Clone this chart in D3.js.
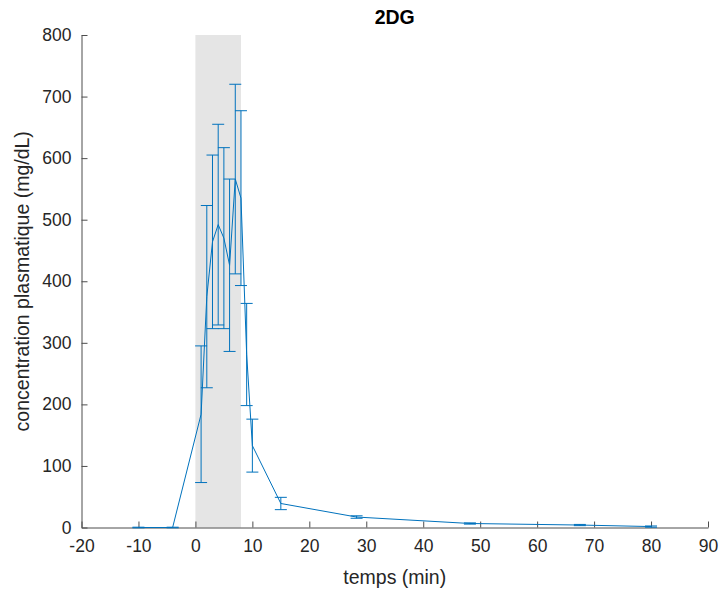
<!DOCTYPE html>
<html>
<head>
<meta charset="utf-8">
<script src="https://cdn.jsdelivr.net/npm/d3@7"></script>
<style>
  html, body { margin: 0; padding: 0; background: #fff; }
  svg { display: block; }
  text { font-family: "Liberation Sans", Arial, Helvetica, sans-serif; }
</style>
</head>
<body>
<svg id="chart" width="721" height="592"></svg>
<script>
// ---- data ----
const times  = [-10, -4, 1, 2, 3, 4, 5, 6, 7, 8, 9, 10, 15, 28.3, 48.2, 67.5, 80];
const means  = [0, 0, 184, 375, 464, 492, 470, 426, 566, 535, 281, 133, 39, 17, 6.5, 4, 1.5];
const errors = [0.5, 0.5, 111, 148, 141, 163, 147, 140, 154, 142, 83, 43, 10, 2, 1, 1, 1];
const shadeRange = [0, 8];
const xTicks = [-20, -10, 0, 10, 20, 30, 40, 50, 60, 70, 80, 90];
const yTicks = [0, 100, 200, 300, 400, 500, 600, 700, 800];
const title = "2DG";
const xLabel = "temps (min)";
const yLabel = "concentration plasmatique (mg/dL)";

// ---- layout ----
const svg = d3.select("#chart");
const x = d3.scaleLinear().domain([-20, 90]).range([81.5, 708]);
const y = d3.scaleLinear().domain([0, 800]).range([527.5, 35]);
const blue = "#0072BD";
const axisColor = "#262626";

// shaded infusion window
svg.append("rect")
  .attr("x", x(shadeRange[0]))
  .attr("y", y(800))
  .attr("width", x(shadeRange[1]) - x(shadeRange[0]))
  .attr("height", y(0) - y(800))
  .attr("fill", "#e5e5e5");

// axes
const fmt = d => String(d);
const xAxis = d3.axisBottom(x).tickValues(xTicks).tickFormat(fmt).tickSizeInner(-6).tickSizeOuter(0).tickPadding(10);
const yAxis = d3.axisLeft(y).tickValues(yTicks).tickFormat(fmt).tickSizeInner(-6).tickSizeOuter(0).tickPadding(10);

const gx = svg.append("g").attr("transform", `translate(0,${y(0)})`).call(xAxis);
const gy = svg.append("g").attr("transform", `translate(${x(-20)},0)`).call(yAxis);
[gx, gy].forEach(g => {
  g.select(".domain").attr("stroke", "#4d4d4d").attr("stroke-width", 1);
  g.selectAll(".tick line").attr("stroke", "#4d4d4d");
  g.selectAll(".tick text").attr("fill", axisColor).style("font-size", "17.5px")
    .style("font-family", '"Liberation Sans", Arial, sans-serif');
});
gx.selectAll(".tick text").attr("dy", "0.8em");

// data
const pts = times.map((t, i) => ({ t, m: means[i], e: errors[i] }));

// line
svg.append("path")
  .datum(pts)
  .attr("fill", "none")
  .attr("stroke", blue)
  .attr("stroke-width", 1)
  .attr("d", d3.line().x(d => x(d.t)).y(d => y(d.m)));

// error bars
const cap = 6;
const eb = svg.append("g").attr("stroke", blue).attr("stroke-width", 1).attr("fill", "none");
pts.forEach(d => {
  const cx = x(d.t), top = y(d.m + d.e), bot = y(d.m - d.e);
  eb.append("line").attr("x1", cx).attr("x2", cx).attr("y1", top).attr("y2", bot);
  eb.append("line").attr("x1", cx - cap).attr("x2", cx + cap).attr("y1", top).attr("y2", top);
  eb.append("line").attr("x1", cx - cap).attr("x2", cx + cap).attr("y1", bot).attr("y2", bot);
});

// title and labels
svg.append("text")
  .attr("x", (x(-20) + x(90)) / 2).attr("y", 24)
  .attr("text-anchor", "middle")
  .attr("font-weight", "bold")
  .style("font-size", "19.5px")
  .attr("fill", "#000")
  .text(title);

svg.append("text")
  .attr("x", (x(-20) + x(90)) / 2).attr("y", 584)
  .attr("text-anchor", "middle")
  .style("font-size", "19.5px")
  .attr("fill", axisColor)
  .text(xLabel);

svg.append("text")
  .attr("transform", `translate(29,${(y(0) + y(800)) / 2}) rotate(-90)`)
  .attr("text-anchor", "middle")
  .style("font-size", "19.5px")
  .attr("fill", axisColor)
  .text(yLabel);
</script>
</body>
</html>
